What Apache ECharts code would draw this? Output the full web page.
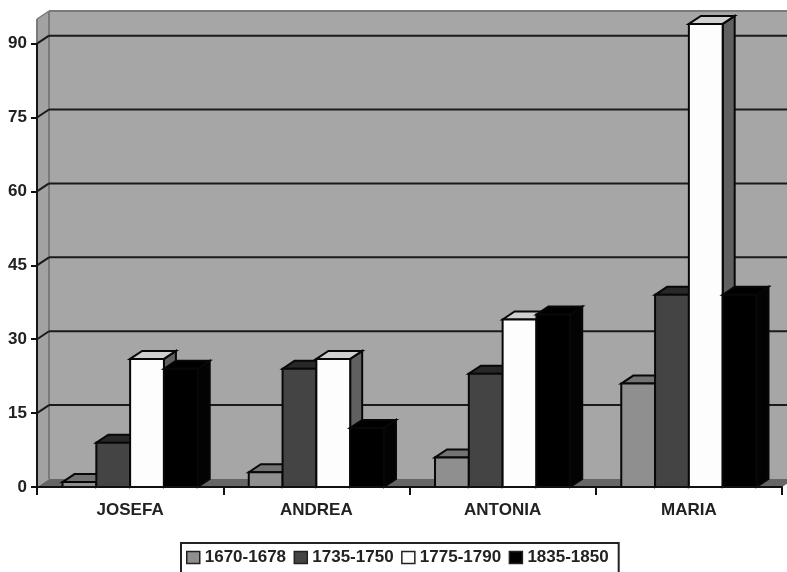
<!DOCTYPE html>
<html><head><meta charset="utf-8">
<style>html,body{margin:0;padding:0;background:#fff;overflow:hidden}#c{width:787px;height:572px}</style>
<script src="https://cdn.jsdelivr.net/npm/echarts@6/dist/echarts.min.js"></script>
</head><body><div id="c"></div>
<script>
const categories = ['JOSEFA','ANDREA','ANTONIA','MARIA'];
const periods = ['1670-1678','1735-1750','1775-1790','1835-1850'];
const v1670 = [1,3,6,21];
const v1735 = [9,24,23,39];
const v1775 = [26,26,34,94];
const v1835 = [24,12,35,39];
const seriesValues = [v1670,v1735,v1775,v1835];
const tickValues = [0,15,30,45,60,75,90];
const axisMax = 95;

const DX = 12, DY = 8;
const looks = [
  {front:'#8f8f8f', top:'#737373', side:'#6a6a6a'},
  {front:'#444444', top:'#282828', side:'#262626'},
  {front:'#fdfdfd', top:'#d0d0d0', side:'#606060'},
  {front:'#000000', top:'#000000', side:'#030303'}
];
const edge = '#080808';
const chart = echarts.init(document.getElementById('c'));

function poly(points, fill, stroke, lw){
  return {type:'polygon', shape:{points}, style:{fill, stroke:stroke||null, lineWidth:lw||0}};
}
function line(a,b,stroke,lw){
  return {type:'line', shape:{x1:a[0],y1:a[1],x2:b[0],y2:b[1]}, style:{stroke, lineWidth:lw}};
}
function wallItem(params, api){
  const g = params.coordSys;
  const l=g.x, r=g.x+g.width, t=g.y, b=g.y+g.height;
  const W='#a6a6a6', B='#7a7a7a';
  return {type:'group', silent:true, children:[
    poly([[l+DX,t-DY],[r+DX,t-DY],[r+DX,b-DY],[l+DX,b-DY]],W),
    poly([[l,t],[l+DX,t-DY],[l+DX,b-DY],[l,b]],'#a2a2a2'),
    poly([[l,b],[l+DX,b-DY],[r+DX,b-DY],[r,b]],'#666666'),
    line([l,t],[l+DX,t-DY],B,1.5),
    line([l+DX,t-DY],[r+DX,t-DY],B,2),
    line([l+DX,t-DY],[l+DX,b-DY],B,2),
    line([l,t],[l,b],B,2)
  ]};
}
function gridItem(params, api){
  const g = params.coordSys;
  const v = api.value(1);
  const y = api.coord([0,v])[1], l = g.x, r = g.x+g.width;
  const children = [];
  if (v>0){
    children.push(line([l,y],[l+DX,y-DY],'#1a1a1a',2));
    children.push(line([l+DX,y-DY],[r+DX,y-DY],'#1a1a1a',2));
    children.push(line([l,y],[l,api.coord([0,v-15])[1]],'#151515',2));
  }
  return {type:'group', silent:true, children};
}
function barRenderer(si){
  return function(params, api){
    const c = api.coord([api.value(0), api.value(1)]);
    const base = api.coord([api.value(0), 0]);
    const w = api.size([1,0])[0]*0.1815;
    const x0 = c[0] - 2*w + si*w, x1 = x0 + w;
    const yt = c[1], yb = base[1];
    const k = looks[si];
    const lw = 2;
    return {type:'group', children:[
      poly([[x1,yt],[x1+DX,yt-DY],[x1+DX,yb-DY],[x1,yb]],k.side,edge,lw),
      poly([[x0,yt],[x0+DX,yt-DY],[x1+DX,yt-DY],[x1,yt]],k.top,edge,lw),
      poly([[x0,yt],[x1,yt],[x1,yb],[x0,yb]],k.front,edge,lw)
    ]};
  };
}
const series = [
  {type:'custom', name:'wall', data:[[0,0]], encode:{x:0,y:1}, renderItem:wallItem, z:1, clip:false, silent:true},
  {type:'custom', name:'grid', data:tickValues.map(v=>[0,v]), encode:{x:0,y:1}, renderItem:gridItem, z:2, clip:false, silent:true}
];
periods.forEach((p,si)=>{
  series.push({type:'custom', name:p, z:3+si, clip:false,
    data:seriesValues[si].map((v,i)=>[i,v]), encode:{x:0,y:1},
    itemStyle:{color:looks[si].front}, renderItem:barRenderer(si)});
});
chart.setOption({
  animation:false,
  backgroundColor:'#fff',
  grid:{left:37,right:5,top:19,bottom:85,containLabel:false},
  xAxis:{type:'category',data:categories,boundaryGap:true,
    axisLine:{show:true,lineStyle:{color:'#111',width:2}},
    axisTick:{show:true,length:8,alignWithLabel:false,lineStyle:{color:'#111',width:2}},
    axisLabel:{fontFamily:'Liberation Sans',fontWeight:'bold',fontSize:17,color:'#222',margin:15},
    splitLine:{show:false},z:10},
  yAxis:{type:'value',min:0,max:axisMax,interval:15,
    axisLine:{show:false},
    axisTick:{show:true,length:6,inside:false,customValues:tickValues,lineStyle:{color:'#111',width:2}},
    axisLabel:{fontFamily:'Liberation Sans',fontWeight:'bold',fontSize:17,color:'#222',margin:10,customValues:tickValues},
    splitLine:{show:false},z:10},
  legend:{show:true,left:181,top:543,data:periods.map((p,i)=>({name:p,icon:'rect',
      itemStyle:{color:looks[i].front,borderColor:'#222',borderWidth:1.5}})),
    orient:'horizontal',itemWidth:13,itemHeight:12,itemGap:7.5,
    padding:[6,10,12,5],borderColor:'#222',borderWidth:2,backgroundColor:'#fff',
    textStyle:{fontFamily:'Liberation Sans',fontWeight:'bold',fontSize:17,color:'#222'},
    selectedMode:false},
  tooltip:{show:false},
  series
});
</script></body></html>
